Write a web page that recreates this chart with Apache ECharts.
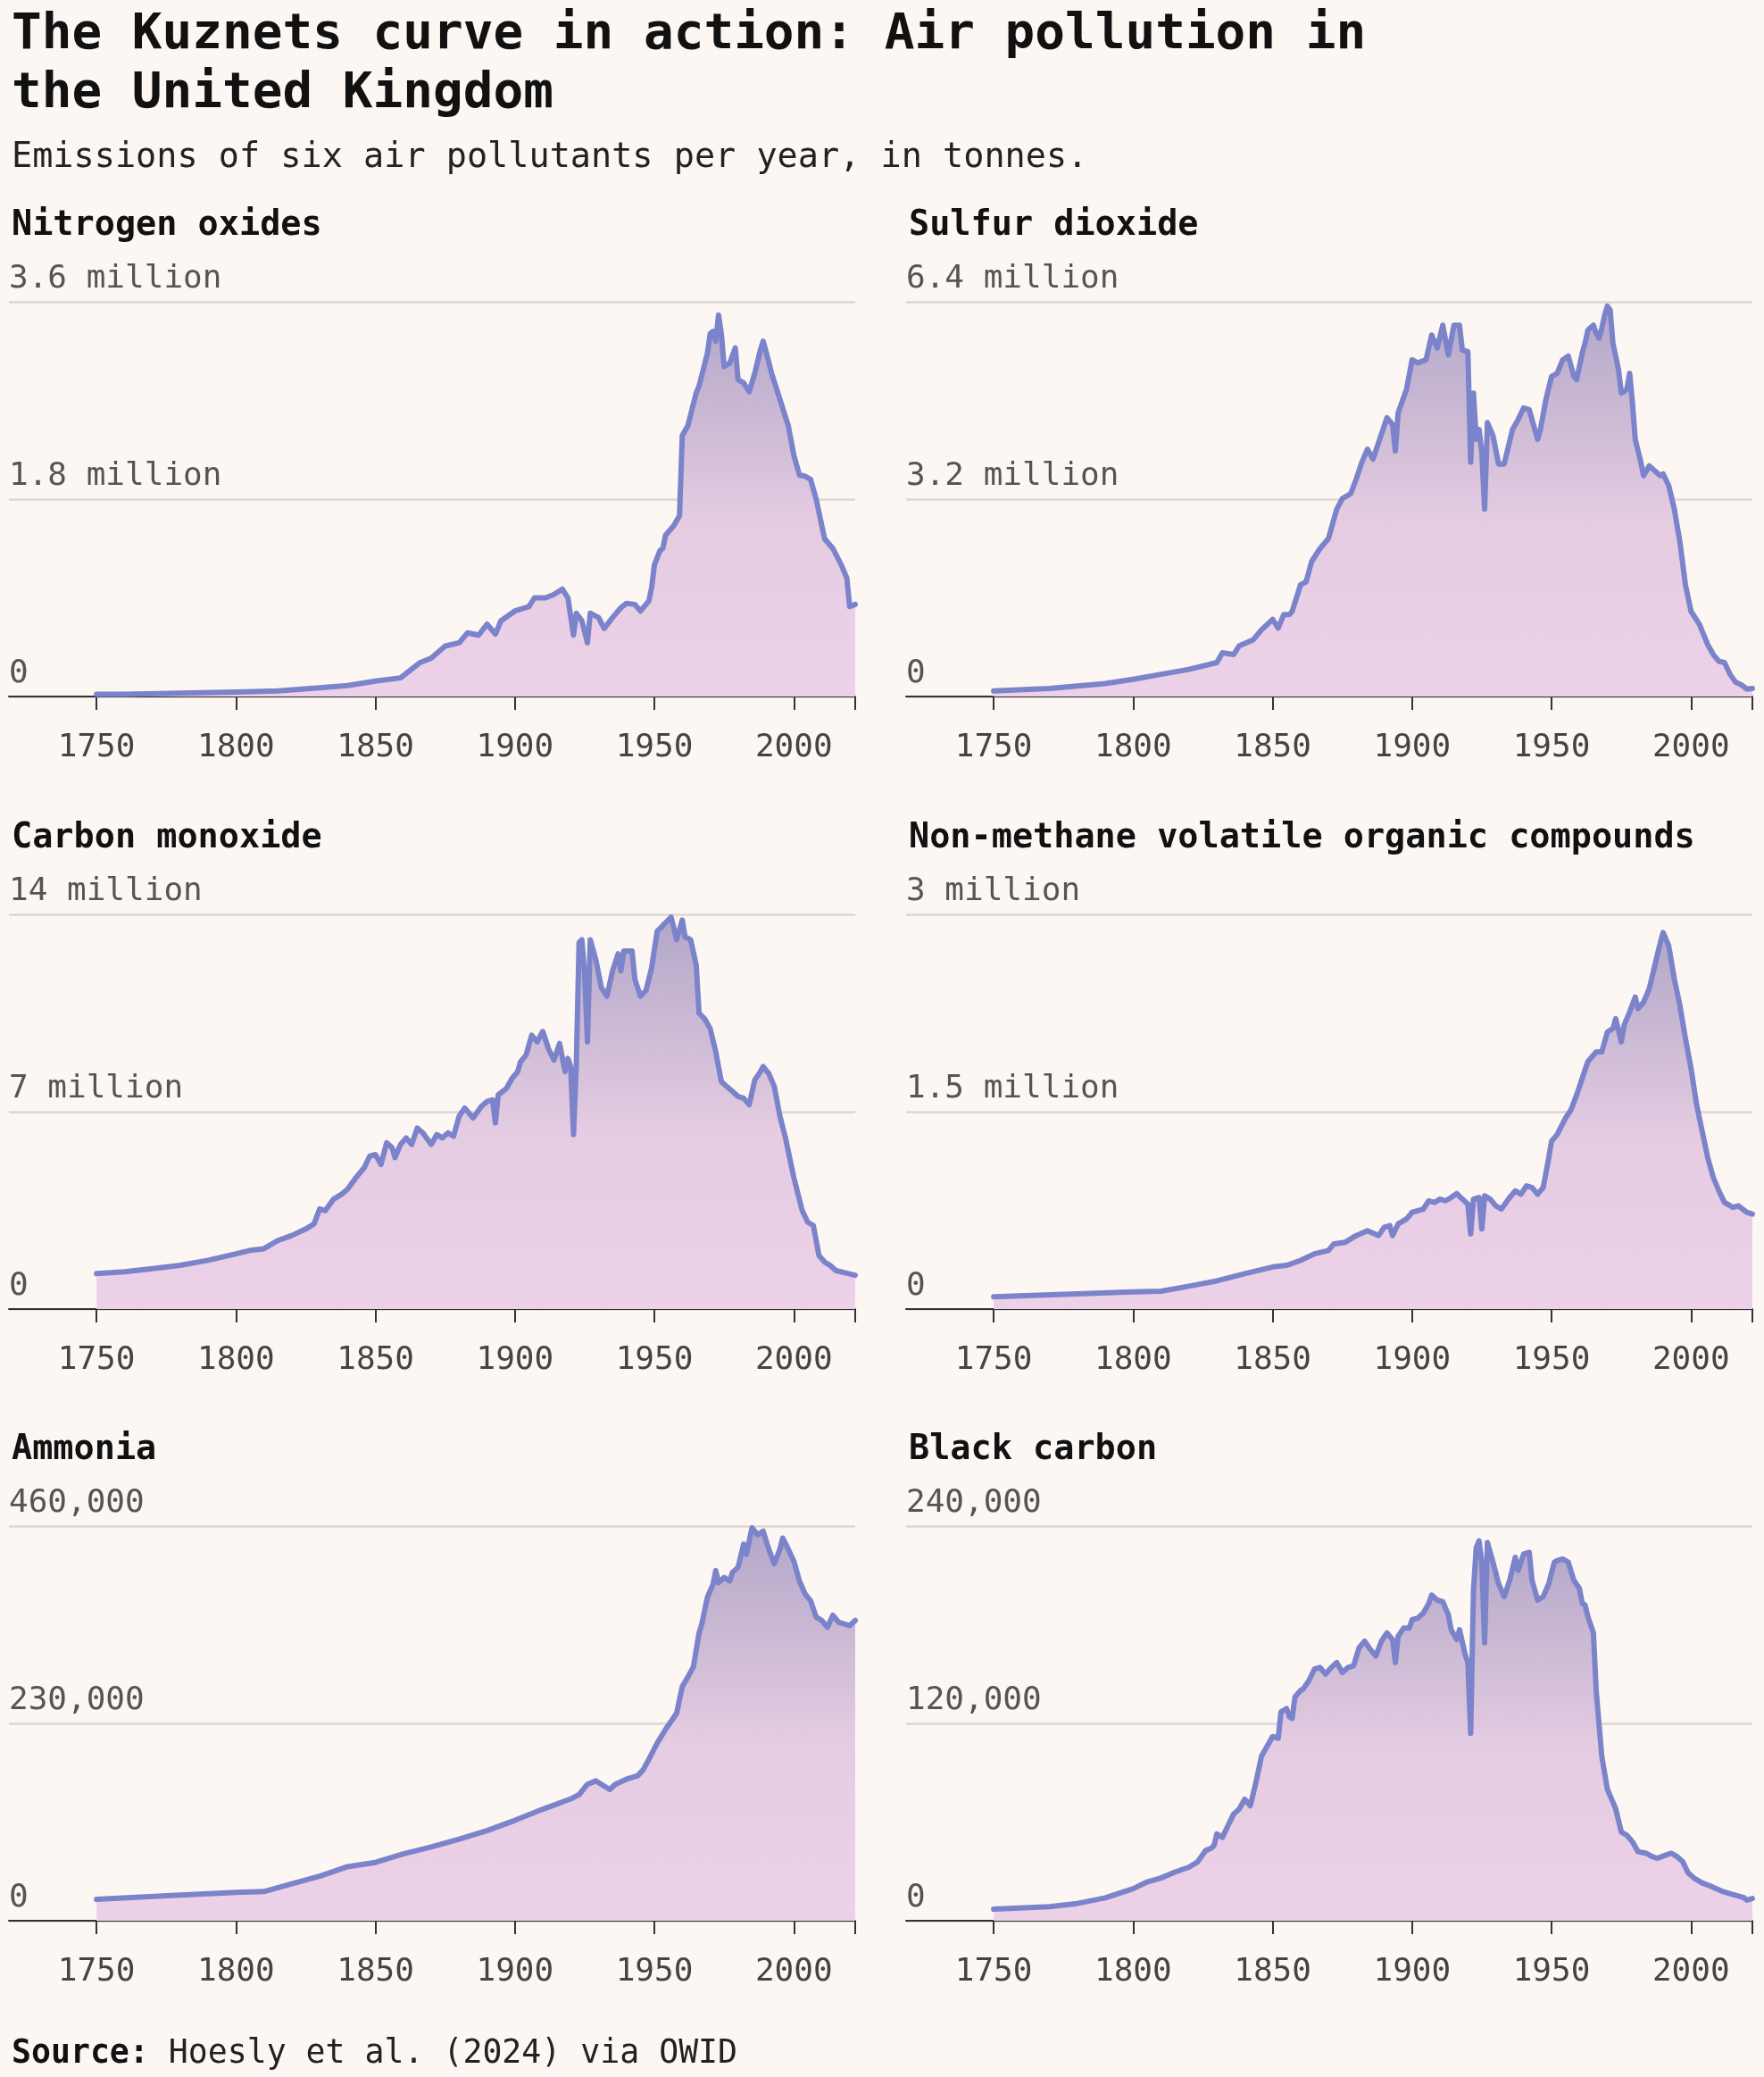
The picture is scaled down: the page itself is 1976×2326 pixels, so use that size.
<!DOCTYPE html>
<html>
<head>
<meta charset="utf-8">
<script src="https://cdn.jsdelivr.net/npm/echarts@6/dist/echarts.min.js"></script>
<style>
  html, body { margin: 0; padding: 0; background: #fdf7f4; }
  #chart { width: 1976px; height: 2326px; }
</style>
</head>
<body>
<div id="chart"></div>
<script>
// values; million tonnes for the first four, thousand tonnes for the last two
var nitrogenOxides = [[1750,0.02],[1760,0.02],[1780,0.03],[1800,0.04],[1815,0.05],[1830,0.08],[1840,0.10],[1850,0.14],[1859,0.17],[1866,0.31],[1870,0.35],[1875,0.46],[1880,0.49],[1883,0.58],[1887,0.56],[1890,0.66],[1893,0.57],[1895,0.69],[1900,0.78],[1905,0.82],[1907,0.90],[1911,0.90],[1914,0.93],[1917,0.98],[1919,0.90],[1921,0.56],[1922,0.76],[1924,0.69],[1926,0.49],[1927,0.76],[1930,0.72],[1932,0.62],[1935,0.72],[1938,0.81],[1940,0.85],[1943,0.84],[1945,0.78],[1948,0.87],[1949,0.99],[1950,1.20],[1952,1.33],[1953,1.35],[1954,1.47],[1957,1.56],[1959,1.65],[1960,2.38],[1962,2.47],[1965,2.77],[1966,2.83],[1969,3.13],[1970,3.31],[1971,3.33],[1972,3.24],[1973,3.48],[1974,3.31],[1975,3.01],[1977,3.04],[1979,3.18],[1980,2.89],[1982,2.86],[1984,2.78],[1986,2.95],[1988,3.16],[1989,3.24],[1990,3.15],[1992,2.95],[1995,2.71],[1998,2.47],[2000,2.20],[2002,2.02],[2004,2.01],[2006,1.98],[2008,1.80],[2011,1.44],[2014,1.35],[2017,1.20],[2019,1.08],[2020,0.82],[2022,0.84]];

var sulfurDioxide = [[1750,0.09],[1770,0.13],[1790,0.21],[1800,0.28],[1810,0.36],[1820,0.44],[1830,0.55],[1832,0.71],[1836,0.68],[1838,0.82],[1843,0.92],[1846,1.08],[1850,1.25],[1852,1.11],[1854,1.33],[1856,1.33],[1857,1.38],[1860,1.81],[1862,1.86],[1864,2.19],[1867,2.40],[1870,2.56],[1873,3.04],[1875,3.21],[1878,3.29],[1880,3.53],[1882,3.80],[1884,4.01],[1886,3.85],[1888,4.12],[1891,4.52],[1893,4.41],[1894,3.98],[1895,4.60],[1898,4.98],[1900,5.46],[1902,5.41],[1905,5.46],[1907,5.86],[1909,5.65],[1911,6.02],[1913,5.54],[1915,6.02],[1917,6.02],[1918,5.62],[1920,5.59],[1921,3.80],[1922,4.92],[1923,4.17],[1924,4.33],[1925,3.96],[1926,3.04],[1927,4.44],[1929,4.23],[1931,3.77],[1933,3.77],[1936,4.33],[1938,4.49],[1940,4.68],[1942,4.65],[1944,4.33],[1945,4.17],[1946,4.33],[1948,4.82],[1950,5.19],[1952,5.24],[1954,5.46],[1956,5.52],[1958,5.19],[1959,5.14],[1961,5.57],[1962,5.73],[1963,5.94],[1965,6.02],[1966,5.89],[1967,5.81],[1968,5.97],[1969,6.18],[1970,6.33],[1971,6.27],[1972,5.73],[1974,5.30],[1975,4.92],[1977,4.98],[1978,5.24],[1979,4.76],[1980,4.17],[1982,3.80],[1983,3.58],[1985,3.74],[1987,3.66],[1989,3.58],[1990,3.61],[1992,3.42],[1994,3.04],[1996,2.51],[1998,1.81],[2000,1.38],[2003,1.17],[2006,0.84],[2008,0.68],[2010,0.57],[2012,0.55],[2014,0.36],[2016,0.23],[2018,0.19],[2020,0.12],[2022,0.13]];

var carbonMonoxide = [[1750,1.26],[1760,1.32],[1770,1.43],[1780,1.55],[1790,1.73],[1800,1.96],[1805,2.08],[1810,2.14],[1815,2.43],[1820,2.61],[1825,2.84],[1828,3.02],[1830,3.55],[1832,3.49],[1835,3.90],[1838,4.08],[1840,4.25],[1843,4.66],[1846,5.02],[1848,5.43],[1850,5.48],[1852,5.13],[1854,5.90],[1856,5.72],[1857,5.37],[1859,5.84],[1861,6.07],[1863,5.84],[1865,6.42],[1867,6.25],[1870,5.84],[1872,6.19],[1874,6.07],[1876,6.25],[1878,6.13],[1880,6.84],[1882,7.13],[1885,6.78],[1888,7.19],[1890,7.36],[1892,7.42],[1893,6.60],[1894,7.60],[1897,7.83],[1899,8.19],[1901,8.42],[1902,8.77],[1904,9.01],[1906,9.71],[1908,9.48],[1910,9.85],[1912,9.24],[1914,8.83],[1916,9.42],[1918,8.42],[1919,8.89],[1920,8.60],[1921,6.19],[1922,8.66],[1923,13.0],[1924,13.1],[1925,11.9],[1926,9.48],[1927,13.1],[1929,12.4],[1931,11.4],[1933,11.1],[1935,12.0],[1937,12.6],[1938,12.0],[1939,12.7],[1942,12.7],[1943,11.7],[1945,11.1],[1947,11.3],[1949,12.1],[1951,13.4],[1952,13.5],[1954,13.7],[1956,13.9],[1957,13.5],[1958,13.1],[1960,13.8],[1961,13.2],[1963,13.1],[1965,12.2],[1966,10.5],[1968,10.3],[1970,9.95],[1972,9.12],[1974,8.07],[1976,7.89],[1978,7.72],[1980,7.54],[1982,7.48],[1984,7.25],[1986,8.13],[1988,8.42],[1989,8.60],[1991,8.36],[1993,7.89],[1995,6.84],[1997,6.07],[2000,4.66],[2003,3.49],[2005,3.08],[2007,2.96],[2009,1.90],[2011,1.67],[2013,1.55],[2015,1.37],[2017,1.32],[2022,1.20]];

var nmvoc = [[1750,0.093],[1800,0.131],[1810,0.136],[1820,0.174],[1830,0.214],[1840,0.269],[1845,0.294],[1850,0.320],[1855,0.332],[1860,0.370],[1865,0.420],[1870,0.445],[1872,0.496],[1876,0.508],[1880,0.559],[1884,0.596],[1888,0.559],[1890,0.622],[1892,0.634],[1893,0.559],[1895,0.647],[1898,0.685],[1900,0.735],[1904,0.760],[1906,0.823],[1908,0.810],[1910,0.836],[1912,0.823],[1914,0.848],[1916,0.878],[1918,0.836],[1920,0.798],[1921,0.571],[1922,0.836],[1924,0.848],[1925,0.609],[1926,0.861],[1928,0.836],[1930,0.785],[1932,0.760],[1935,0.848],[1937,0.898],[1939,0.873],[1941,0.936],[1943,0.924],[1945,0.873],[1947,0.924],[1949,1.150],[1950,1.276],[1952,1.326],[1955,1.452],[1957,1.515],[1959,1.628],[1961,1.754],[1963,1.880],[1966,1.955],[1968,1.955],[1970,2.106],[1972,2.132],[1973,2.207],[1975,2.031],[1976,2.157],[1978,2.258],[1980,2.371],[1981,2.283],[1983,2.333],[1985,2.434],[1987,2.610],[1989,2.786],[1990,2.862],[1992,2.761],[1994,2.509],[1996,2.308],[1998,2.056],[2000,1.830],[2002,1.553],[2004,1.352],[2006,1.150],[2008,0.999],[2010,0.898],[2012,0.810],[2015,0.773],[2017,0.785],[2020,0.735],[2022,0.722]];

var ammonia = [[1750,25],[1780,30],[1800,33],[1810,34],[1820,43],[1830,52],[1840,63],[1850,68],[1860,78],[1870,86],[1880,95],[1890,105],[1900,117],[1910,130],[1915,136],[1920,142],[1923,147],[1926,159],[1929,163],[1931,159],[1934,153],[1936,159],[1940,165],[1944,169],[1946,176],[1948,188],[1951,207],[1954,223],[1958,242],[1960,273],[1962,284],[1964,296],[1966,335],[1967,346],[1969,377],[1971,392],[1972,408],[1973,394],[1975,400],[1977,396],[1978,406],[1980,412],[1982,439],[1983,427],[1985,458],[1987,450],[1989,454],[1991,433],[1993,416],[1995,433],[1996,446],[1998,433],[2000,419],[2002,396],[2004,381],[2006,373],[2008,354],[2010,350],[2012,342],[2014,356],[2016,348],[2018,346],[2020,344],[2022,350]];

var blackCarbon = [[1750,7.0],[1770,8.5],[1780,10.5],[1790,13.9],[1800,19.5],[1805,23.6],[1810,26.0],[1815,29.6],[1820,32.6],[1823,35.6],[1826,42.7],[1828,44.1],[1829,45.7],[1830,52.8],[1832,50.7],[1834,57.8],[1836,64.8],[1838,67.9],[1840,73.9],[1842,69.9],[1844,84.0],[1846,100],[1848,106],[1850,112],[1852,111],[1853,127],[1855,129],[1856,124],[1857,123],[1858,136],[1860,140],[1861,141],[1863,146],[1865,153],[1867,154],[1869,150],[1871,154],[1873,157],[1875,151],[1877,154],[1879,155],[1881,166],[1883,170],[1885,165],[1887,161],[1889,170],[1891,175],[1893,171],[1894,157],[1895,173],[1897,178],[1899,178],[1900,183],[1902,184],[1904,187],[1906,193],[1907,198],[1909,195],[1911,194],[1913,186],[1914,177],[1916,171],[1917,177],[1919,162],[1920,157],[1921,114],[1922,201],[1923,227],[1924,231],[1925,218],[1926,169],[1927,230],[1929,218],[1931,205],[1933,197],[1935,207],[1937,221],[1938,213],[1940,223],[1942,224],[1943,207],[1945,195],[1947,197],[1949,205],[1951,218],[1952,219],[1954,220],[1956,218],[1958,207],[1960,202],[1961,193],[1962,192],[1963,185],[1965,175],[1966,140],[1968,100],[1970,80],[1973,68],[1975,54],[1977,52],[1979,48],[1981,42],[1984,41],[1986,39],[1988,38],[1991,40],[1993,41],[1995,39],[1997,36],[1999,29],[2001,26],[2004,23],[2007,21],[2011,18],[2015,16],[2019,14],[2020,12.5],[2022,13.5]];

var panelTitles = ['Nitrogen oxides', 'Sulfur dioxide', 'Carbon monoxide',
    'Non-methane volatile organic compounds', 'Ammonia', 'Black carbon'];
var panelMax = [3.6, 6.4, 14, 3, 460, 240];
var yTickLabels = [
    ['0', '1.8 million', '3.6 million'],
    ['0', '3.2 million', '6.4 million'],
    ['0', '7 million', '14 million'],
    ['0', '1.5 million', '3 million'],
    ['0', '230,000', '460,000'],
    ['0', '120,000', '240,000']
];
var yearTicks = [1750, 1800, 1850, 1900, 1950, 2000];
var panelData = [nitrogenOxides, sulfurDioxide, carbonMonoxide, nmvoc, ammonia, blackCarbon];

var FONT = "'DejaVu Sans Mono', 'Liberation Mono', monospace";
var colLeft = [10, 1015];
var rowTop = [338, 1024, 1709];
var panelW = 948, panelH = 442;

var myChart = echarts.init(document.getElementById('chart'), null, {renderer: 'canvas'});

var titles = [{
    text: 'The Kuznets curve in action: Air pollution in\nthe United Kingdom',
    left: 8, top: 1,
    textStyle: {fontFamily: FONT, fontSize: 56, fontWeight: 'bold', color: '#111', lineHeight: 66}
}, {
    text: 'Emissions of six air pollutants per year, in tonnes.',
    left: 8, top: 152,
    textStyle: {fontFamily: FONT, fontSize: 38.5, fontWeight: 'normal', color: '#222'}
}, {
    text: '{b|Source:} Hoesly et al. (2024) via OWID',
    left: 8, top: 2277,
    textStyle: {
        fontFamily: FONT, fontSize: 36.5, fontWeight: 'normal', color: '#222',
        rich: {b: {fontFamily: FONT, fontSize: 36.5, fontWeight: 'bold', color: '#111'}}
    }
}];
var grids = [], xAxes = [], yAxes = [], series = [];

for (var i = 0; i < 6; i++) {
    var col = i % 2, row = Math.floor(i / 2);
    titles.push({
        text: panelTitles[i],
        left: colLeft[col] - 2, top: rowTop[row] - 110,
        textStyle: {fontFamily: FONT, fontSize: 38.5, fontWeight: 'bold', color: '#111'}
    });
    grids.push({left: colLeft[col], top: rowTop[row], width: panelW, height: panelH});
    xAxes.push({
        type: 'value', gridIndex: i, min: 1718.6, max: 2022,
        axisLine: {show: true, onZero: false, lineStyle: {color: '#333', width: 2}},
        axisTick: {show: true, length: 15, customValues: yearTicks.concat([2022]),
            lineStyle: {color: '#333', width: 2}},
        axisLabel: {customValues: yearTicks, margin: 40, color: '#444',
            fontFamily: FONT, fontSize: 36,
            formatter: function (v) { return String(Math.round(v)); }},
        splitLine: {show: false}
    });
    (function (labels) {
        yAxes.push({
            type: 'value', gridIndex: i, min: 0, max: panelMax[i], interval: panelMax[i] / 2,
            axisLine: {show: false},
            axisTick: {show: false},
            axisLabel: {
                inside: true, margin: 0, verticalAlign: 'bottom', padding: [0, 0, 7, 0],
                color: '#555', fontFamily: FONT, fontSize: 36,
                formatter: function (v, idx) { return labels[idx]; }
            },
            splitLine: {show: true, lineStyle: {color: '#dcd7d4', width: 2.5}}
        });
    })(yTickLabels[i]);
    series.push({
        type: 'line', xAxisIndex: i, yAxisIndex: i,
        data: panelData[i],
        symbol: 'none',
        lineStyle: {color: '#7b83ca', width: 6, join: 'round', cap: 'round'},
        areaStyle: {
            color: new echarts.graphic.LinearGradient(0, 0, 0, 1, [
                {offset: 0, color: '#b2a7c8'},
                {offset: 0.55, color: '#e5cce2'},
                {offset: 1, color: '#edd1e8'}
            ]),
            opacity: 1
        },
        z: 3
    });
}

var option = {
    backgroundColor: '#fdf7f4',
    animation: false,
    title: titles,
    grid: grids,
    xAxis: xAxes,
    yAxis: yAxes,
    series: series
};
myChart.setOption(option);
window.addEventListener('resize', function () {
    myChart.resize();
});
</script>
</body>
</html>
